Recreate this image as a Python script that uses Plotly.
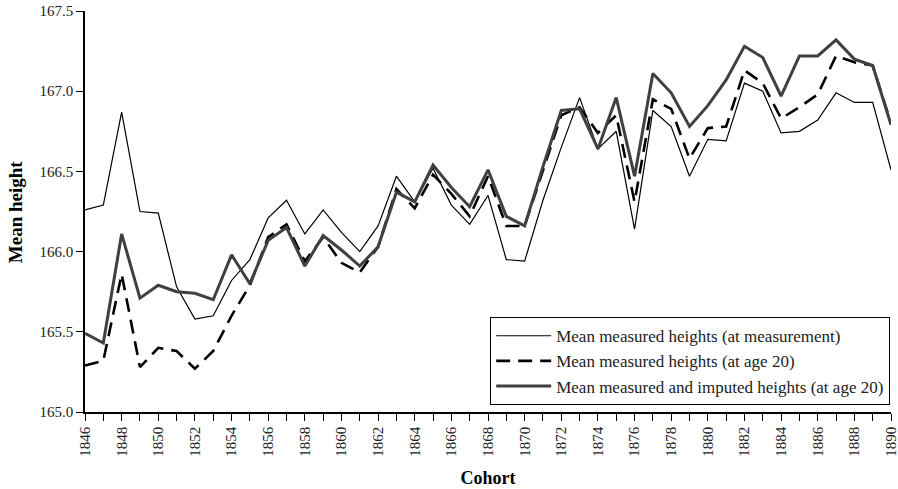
import plotly.graph_objects as go

# Birth cohorts and mean heights (cm)
cohorts = list(range(1846, 1891))

height_at_measurement = [
    166.26, 166.29, 166.87, 166.25, 166.24, 165.78, 165.58, 165.60, 165.82, 165.95,
    166.21, 166.32, 166.11, 166.26, 166.12, 166.00, 166.16, 166.47, 166.31, 166.52,
    166.29, 166.17, 166.35, 165.95, 165.94, 166.32, 166.65, 166.96, 166.64, 166.75,
    166.14, 166.88, 166.78, 166.47, 166.70, 166.69, 167.05, 167.00, 166.74, 166.75,
    166.82, 166.99, 166.93, 166.93, 166.51,
]

height_at_age20 = [
    165.29, 165.32, 165.86, 165.28, 165.40, 165.38, 165.27, 165.38, 165.60, 165.79,
    166.09, 166.17, 165.94, 166.09, 165.93, 165.87, 166.03, 166.39, 166.27, 166.48,
    166.36, 166.22, 166.47, 166.16, 166.16, 166.50, 166.85, 166.90, 166.74, 166.85,
    166.31, 166.95, 166.89, 166.58, 166.77, 166.78, 167.13, 167.05, 166.83, 166.90,
    166.98, 167.22, 167.18, 167.16, 166.80,
]

height_imputed_age20 = [
    165.49, 165.43, 166.11, 165.71, 165.79, 165.75, 165.74, 165.70, 165.98, 165.80,
    166.07, 166.15, 165.91, 166.10, 166.01, 165.91, 166.03, 166.37, 166.31, 166.54,
    166.40, 166.28, 166.51, 166.22, 166.16, 166.53, 166.88, 166.89, 166.64, 166.96,
    166.47, 167.11, 166.99, 166.78, 166.91, 167.07, 167.28, 167.21, 166.97, 167.22,
    167.22, 167.32, 167.20, 167.16, 166.79,
]

series_names = [
    "Mean measured heights (at measurement)",
    "Mean measured heights (at age 20)",
    "Mean measured and imputed heights (at age 20)",
]

x_ticktext = [str(c) if c % 2 == 0 else "" for c in cohorts]
y_tickvals = [165.0, 165.5, 166.0, 166.5, 167.0, 167.5]

FONT = "Liberation Serif"

fig = go.Figure()
fig.add_trace(go.Scatter(
    x=cohorts, y=height_at_measurement, mode="lines", name=series_names[0],
    line=dict(color="black", width=1.2),
))
fig.add_trace(go.Scatter(
    x=cohorts, y=height_at_age20, mode="lines", name=series_names[1],
    line=dict(color="black", width=2.6, dash="14px,8px"),
))
fig.add_trace(go.Scatter(
    x=cohorts, y=height_imputed_age20, mode="lines", name=series_names[2],
    line=dict(color="#404040", width=3),
))

fig.update_layout(
    width=898, height=489,
    margin=dict(l=85, r=7, t=11, b=77, autoexpand=False),
    paper_bgcolor="white", plot_bgcolor="white",
    font=dict(family=FONT, size=15, color="#222"),
    showlegend=True,
    legend=dict(
        x=0.999, y=0.017, xanchor="right", yanchor="bottom",
        bordercolor="black", borderwidth=1, bgcolor="white",
        font=dict(family=FONT, size=17, color="#222"),
        tracegroupgap=0, itemwidth=55,
    ),
    annotations=[dict(
        text="<b>Mean height</b>", textangle=-90,
        xref="paper", yref="paper", x=-0.086, y=0.5,
        xanchor="center", yanchor="middle", showarrow=False,
        font=dict(family=FONT, size=19, color="black"),
    )],
)

fig.update_xaxes(
    range=[1846, 1890],
    tickvals=cohorts, ticktext=x_ticktext, tickangle=-90,
    ticklabeloverflow="allow",
    ticks="outside", ticklen=7, tickcolor="black", tickwidth=1,
    showline=True, linecolor="black", linewidth=1.5,
    showgrid=False, zeroline=False,
    title=dict(text="<b>Cohort</b>", font=dict(family=FONT, size=18, color="black"), standoff=16),
    tickfont=dict(family=FONT, size=15, color="#222"),
)
fig.update_yaxes(
    range=[165.0, 167.5],
    tickvals=y_tickvals, tickformat=".1f",
    ticks="outside", ticklen=7, tickcolor="black", tickwidth=1,
    showline=True, linecolor="black", linewidth=1.5,
    showgrid=False, zeroline=False,
    tickfont=dict(family=FONT, size=15, color="#222"),
)

fig.write_html("out.html")
